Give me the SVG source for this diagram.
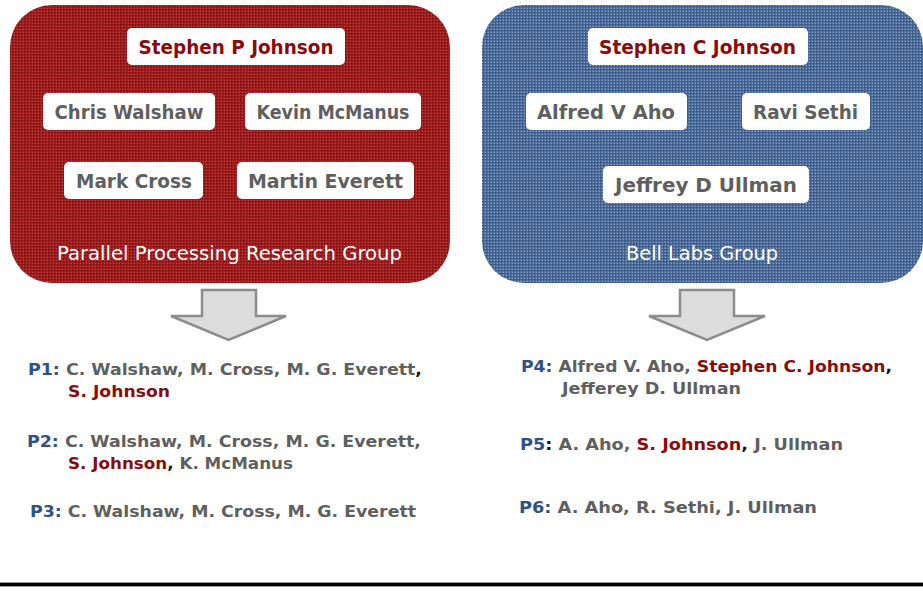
<svg xmlns="http://www.w3.org/2000/svg" width="923" height="592" viewBox="0 0 923 592">
<defs>
<pattern id="redpat" width="3" height="3" patternUnits="userSpaceOnUse">
<rect width="3" height="3" fill="#9e1c1c"/>
<rect x="0" y="0" width="1" height="1" fill="#6a0b0b"/>
<rect x="2" y="2" width="1" height="1" fill="#bf4646"/>
</pattern>
<pattern id="bluepat" width="3" height="3" patternUnits="userSpaceOnUse">
<rect width="3" height="3" fill="#5777a6"/>
<rect x="0" y="0" width="3" height="1" fill="#3f5e8c"/>
<rect x="0" y="0" width="1" height="3" fill="#3f5e8c"/>
<rect x="2" y="2" width="1" height="1" fill="#8fa6c8"/>
</pattern>
<style>
.box{fill:#ffffff}
.nm{font-family:"DejaVu Sans","Liberation Sans",sans-serif;font-weight:bold;font-size:19px;fill:#5f5f5f;text-anchor:middle}
.grp{font-family:"DejaVu Sans","Liberation Sans",sans-serif;font-size:19px;fill:#ffffff;text-anchor:middle}
.pl{font-family:"DejaVu Sans","Liberation Sans",sans-serif;font-weight:bold;font-size:16.5px;fill:#5f5f5f}
.red{fill:#8b0a0a}
.pk{fill:#2d5289}
.blk{fill:#111111}
.arrow{fill:#dcdcdc;stroke:#8c8c8c;stroke-width:2.5}
</style>
</defs>

<g id="group-ppr">
<rect x="10" y="5" width="440" height="278" rx="42" fill="url(#redpat)"/>
<text class="grp" x="229.5" y="260" textLength="345" lengthAdjust="spacingAndGlyphs">Parallel Processing Research Group</text>
</g>
<g id="node-spj">
<rect class="box" x="127" y="28" width="218" height="37" rx="5"/>
<text class="nm red" x="236" y="54" textLength="195" lengthAdjust="spacingAndGlyphs">Stephen P Johnson</text>
</g>
<g id="node-cw">
<rect class="box" x="43" y="93" width="172" height="37" rx="5"/>
<text class="nm" x="129" y="119" textLength="149" lengthAdjust="spacingAndGlyphs">Chris Walshaw</text>
</g>
<g id="node-km">
<rect class="box" x="245" y="93" width="176" height="37" rx="5"/>
<text class="nm" x="333" y="119" textLength="153" lengthAdjust="spacingAndGlyphs">Kevin McManus</text>
</g>
<g id="node-mc">
<rect class="box" x="64" y="162" width="139" height="37" rx="5"/>
<text class="nm" x="134" y="188" textLength="116" lengthAdjust="spacingAndGlyphs">Mark Cross</text>
</g>
<g id="node-me">
<rect class="box" x="237" y="162" width="177" height="37" rx="5"/>
<text class="nm" x="325.5" y="188" textLength="155" lengthAdjust="spacingAndGlyphs">Martin Everett</text>
</g>

<g id="group-bell">
<rect x="482" y="5" width="441" height="278" rx="42" fill="url(#bluepat)"/>
<text class="grp" x="702" y="260" textLength="152" lengthAdjust="spacingAndGlyphs">Bell Labs Group</text>
</g>
<g id="node-scj">
<rect class="box" x="588" y="28" width="220" height="37" rx="5"/>
<text class="nm red" x="697.5" y="54" textLength="197" lengthAdjust="spacingAndGlyphs">Stephen C Johnson</text>
</g>
<g id="node-ava">
<rect class="box" x="526" y="93" width="161" height="37" rx="5"/>
<text class="nm" x="606" y="119" textLength="138" lengthAdjust="spacingAndGlyphs">Alfred V Aho</text>
</g>
<g id="node-rs">
<rect class="box" x="742" y="93" width="128" height="37" rx="5"/>
<text class="nm" x="805.5" y="119" textLength="105" lengthAdjust="spacingAndGlyphs">Ravi Sethi</text>
</g>
<g id="node-jdu">
<rect class="box" x="603" y="166" width="206" height="37" rx="5"/>
<text class="nm" x="706" y="192" textLength="182" lengthAdjust="spacingAndGlyphs">Jeffrey D Ullman</text>
</g>

<g id="connectors">
<path class="arrow" d="M202 290 H256 V316 H286 L228.5 340 L171 316 H202 Z"/>
<path class="arrow" d="M680 290 H734 V316 H765 L707 340 L649 316 H680 Z"/>
</g>

<g id="papers-left">
<text class="pl" x="28" y="375" textLength="394" lengthAdjust="spacingAndGlyphs"><tspan class="pk">P1:</tspan> C. Walshaw, M. Cross, M. G. Everett<tspan class="blk">,</tspan></text>
<text class="pl red" x="68" y="397" textLength="102" lengthAdjust="spacingAndGlyphs">S. Johnson</text>
<text class="pl" x="27" y="447" textLength="394" lengthAdjust="spacingAndGlyphs"><tspan class="pk">P2:</tspan> C. Walshaw, M. Cross, M. G. Everett,</text>
<text class="pl" x="68" y="469" textLength="225" lengthAdjust="spacingAndGlyphs"><tspan class="red">S. Johnson</tspan><tspan class="blk">,</tspan> K. McManus</text>
<text class="pl" x="30" y="517" textLength="386" lengthAdjust="spacingAndGlyphs"><tspan class="pk">P3:</tspan> C. Walshaw, M. Cross, M. G. Everett</text>
</g>
<g id="papers-right">
<text class="pl" x="521" y="372" textLength="371" lengthAdjust="spacingAndGlyphs"><tspan class="pk">P4:</tspan> Alfred V. Aho, <tspan class="red">Stephen C. Johnson</tspan><tspan class="blk">,</tspan></text>
<text class="pl" x="562" y="394" textLength="179" lengthAdjust="spacingAndGlyphs">Jefferey D. Ullman</text>
<text class="pl" x="520" y="450" textLength="323" lengthAdjust="spacingAndGlyphs"><tspan class="pk">P5</tspan><tspan class="blk">:</tspan> A. Aho, <tspan class="red">S. Johnson</tspan><tspan class="blk">,</tspan> J. Ullman</text>
<text class="pl" x="519" y="513" textLength="298" lengthAdjust="spacingAndGlyphs"><tspan class="pk">P6:</tspan> A. Aho, R. Sethi, J. Ullman</text>
</g>

<rect x="0" y="582" width="923" height="5" fill="#9a9a9a"/>
<rect x="0" y="583" width="923" height="3" fill="#000000"/>
</svg>
